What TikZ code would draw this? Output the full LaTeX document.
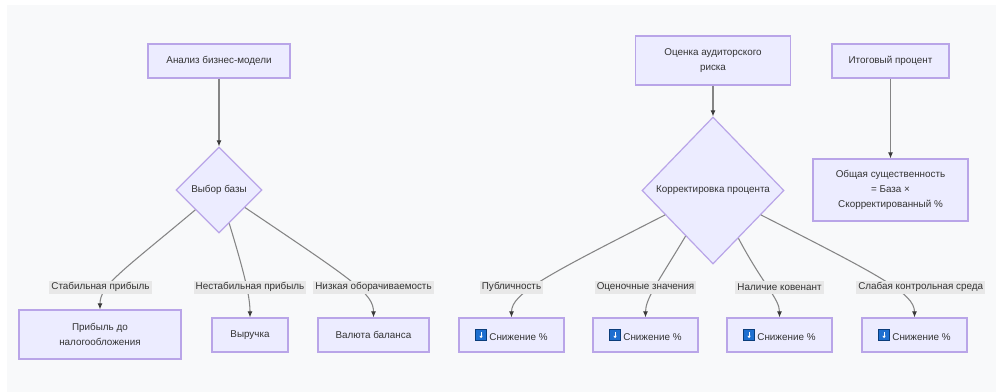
\documentclass[tikz,border=0pt]{standalone}
\usepackage{fontspec}
\setmainfont{Liberation Sans}
\usetikzlibrary{shapes.geometric,arrows.meta}

\definecolor{nodefill}{HTML}{ECECFF}
\definecolor{nodeline}{HTML}{B9A5E8}
\definecolor{edgeline}{HTML}{858585}
\definecolor{tipcol}{HTML}{3A3A3A}
\definecolor{labelbg}{HTML}{E8E8E8}
\definecolor{canvas}{HTML}{F8F9FA}
\definecolor{txt}{HTML}{333333}
\definecolor{iconblue}{HTML}{1E6FD0}
\definecolor{iconedge}{HTML}{0B3D7A}

\newcommand{\dnicon}{\tikz[baseline=-0.6pt]{%
  \draw[fill=iconblue,draw=iconedge,line width=0.4pt] (0pt,-0.8pt) rectangle (8pt,7.2pt);
  \draw[white,line width=0.8pt] (4pt,2.4pt) -- (4pt,5.8pt);
  \fill[white] (2.7pt,2.6pt) -- (5.3pt,2.6pt) -- (4pt,0.8pt) -- cycle;}}

\begin{document}
\begin{tikzpicture}[x=0.75pt,y=0.75pt,
  >={Latex[length=4.5pt,width=3.8pt,color=tipcol]},
  font=\fontsize{7.4}{11.5}\selectfont, text=txt,
  box/.style={draw=nodeline,fill=nodefill,line width=0.9pt,align=center,inner sep=0pt},
  choice/.style={diamond,aspect=1,draw=nodeline,fill=nodefill,line width=0.9pt,inner sep=0pt},
  flow/.style={->,draw=edgeline,line width=0.8pt},
  elabel/.style={fill=labelbg,inner xsep=1.5pt,inner ysep=0pt,minimum height=9.75pt}]

\fill[white] (0,0) rectangle (996,-392);
\fill[canvas] (7,-5) rectangle (996,-392);
\useasboundingbox (0,0) rectangle (996,-392);

% left branch
\node (ana) at (219,-61) [box, minimum width=106.5pt, minimum height=25.5pt] {Анализ бизнес-модели};
\node (base) at (219,-190) [choice, minimum width=64.5pt, minimum height=64.5pt] {Выбор базы};

\node (pbt) at (100,-334.5) [box, minimum width=121.5pt, minimum height=36.75pt] {Прибыль до\\налогообложения};
\node (rev) at (250,-335) [box, minimum width=57pt, minimum height=25.5pt] {Выручка};
\node (bal) at (373.5,-335) [box, minimum width=83.25pt, minimum height=25.5pt] {Валюта баланса};

% right branch
\node (risk) at (713,-60.5) [box, minimum width=116.25pt, minimum height=36.75pt] {Оценка аудиторского\\риска};
\node (adj) at (713,-190.5) [choice, minimum width=106.5pt, minimum height=110.25pt] {Корректировка процента};

\node (final) at (890.5,-61) [box, minimum width=87.75pt, minimum height=25.5pt] {Итоговый процент};
\node (total) at (890.5,-190) [box, minimum width=116.25pt, minimum height=46.5pt] {Общая существенность\\= База ×\\Скорректированный \%};

\node (low1) at (511.5,-335) [box, minimum width=78.75pt, minimum height=25.5pt] {\dnicon\ Снижение \%};
\node (low2) at (645.5,-335) [box, minimum width=78.75pt, minimum height=25.5pt] {\dnicon\ Снижение \%};
\node (low3) at (779.5,-335) [box, minimum width=78.75pt, minimum height=25.5pt] {\dnicon\ Снижение \%};
\node (low4) at (914.5,-335) [box, minimum width=78.75pt, minimum height=25.5pt] {\dnicon\ Снижение \%};

\path [flow]
    (ana) edge (base)
    (risk) edge (adj)
    (final) edge (total)
    (base) edge [out=-140, in=90, out distance=72pt, in distance=18pt] (pbt)
    (base) edge [out=-73, in=90, out distance=44pt, in distance=14pt] (rev)
    (base) edge [out=-34, in=90, out distance=98pt, in distance=18pt] (bal)
    (adj) edge [out=-153, in=90, out distance=100pt, in distance=18pt] (low1)
    (adj) edge [out=-121, in=90, out distance=40pt, in distance=14pt] (low2)
    (adj) edge [out=-62, in=90, out distance=40pt, in distance=14pt] (low3)
    (adj) edge [out=-27, in=90, out distance=100pt, in distance=18pt] (low4)
;

\node (lstab) at (100.5,-287) [elabel] {Стабильная прибыль};
\node (lunst) at (250,-287) [elabel] {Нестабильная прибыль};
\node (lturn) at (373.5,-287) [elabel] {Низкая оборачиваемость};
\node (lpub) at (511.5,-287) [elabel] {Публичность};
\node (lest) at (645.5,-287) [elabel] {Оценочные значения};
\node (lcov) at (779.5,-287) [elabel] {Наличие ковенант};
\node (lctrl) at (856,-287) [elabel, anchor=west] {Слабая контрольная среда};

\end{tikzpicture}
\end{document}
